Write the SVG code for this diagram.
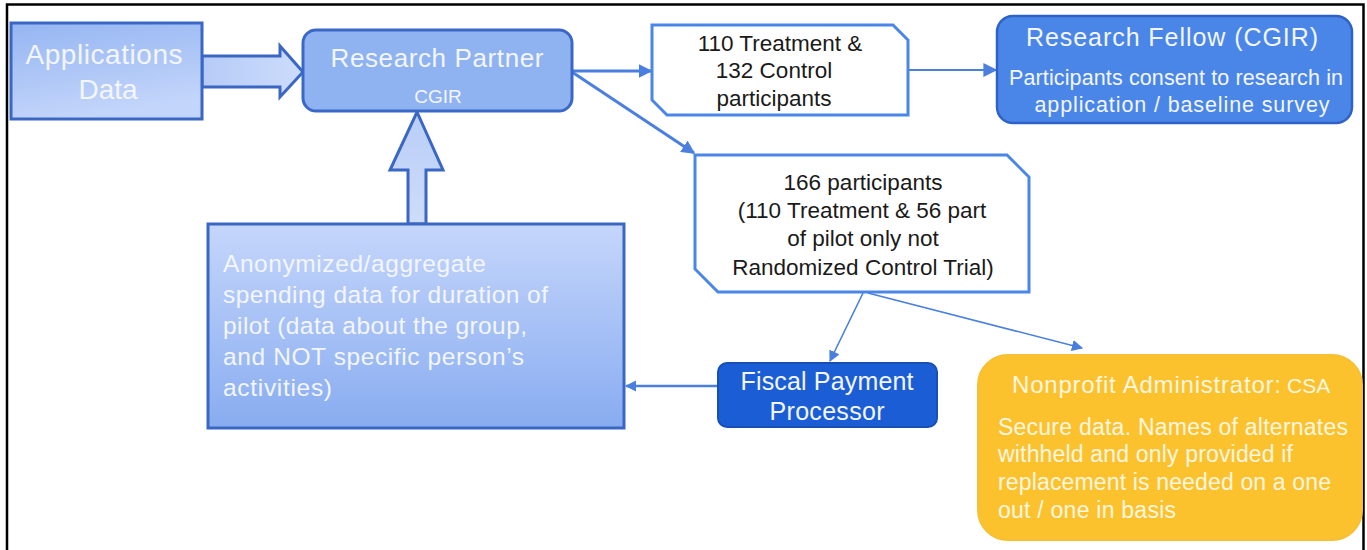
<svg xmlns="http://www.w3.org/2000/svg" width="1367" height="550" viewBox="0 0 1367 550">
<defs>
  <linearGradient id="gApp" x1="0" y1="0" x2="0.3" y2="1">
    <stop offset="0" stop-color="#95b5f2"/>
    <stop offset="1" stop-color="#c3d5fa"/>
  </linearGradient>
  <linearGradient id="gArrowH" x1="0" y1="0" x2="1" y2="0">
    <stop offset="0" stop-color="#b5cbf7"/>
    <stop offset="1" stop-color="#cddcfb"/>
  </linearGradient>
  <linearGradient id="gArrowV" x1="0" y1="0" x2="0" y2="1">
    <stop offset="0" stop-color="#b8cdf7"/>
    <stop offset="1" stop-color="#cfdcfa"/>
  </linearGradient>
  <linearGradient id="gAnon" x1="0" y1="0" x2="0" y2="1">
    <stop offset="0" stop-color="#c5d6fb"/>
    <stop offset="1" stop-color="#88acf0"/>
  </linearGradient>
  <marker id="ah" viewBox="0 0 10 10" refX="9" refY="5" markerWidth="4.5" markerHeight="4.5" orient="auto" markerUnits="strokeWidth">
    <path d="M0,0 L10,5 L0,10 Z" fill="#4a7fe0"/>
  </marker>
  <marker id="ahs" viewBox="0 0 10 10" refX="9" refY="5" markerWidth="7" markerHeight="7" orient="auto" markerUnits="strokeWidth">
    <path d="M0,0 L10,5 L0,10 Z" fill="#4a7fe0"/>
  </marker>
</defs>
<style>
  .w { font-family: "Liberation Sans", Arial, sans-serif; fill: #f3f6ff; }
  .y { fill: #fff6e0; }
  .k { font-family: "Liberation Sans", Arial, sans-serif; fill: #1a1a1a; font-size: 22.5px; text-anchor: middle; }
  .c { text-anchor: middle; }
  .blk { stroke: #3a66c4; stroke-width: 3; }
  .conn { fill: none; stroke: #4a7fe0; }
  .outline { fill: #ffffff; stroke: #4a86e8; stroke-width: 3; }
</style>

<path d="M7,550 V4.5 H1363.5 V550" fill="none" stroke="#000" stroke-width="2.5"/>

<g id="connectors">
  <polygon class="blk" fill="url(#gArrowH)" points="202,56 280,56 280,46 303,72 280,97 280,87 202,87"/>
  <polygon class="blk" fill="url(#gArrowV)" points="408,224 408,170 390,170 417,112 443,170 426,170 426,224"/>
  <line class="conn" x1="572" y1="71" x2="651" y2="71" stroke-width="3" marker-end="url(#ah)"/>
  <line class="conn" x1="909" y1="70" x2="996" y2="70" stroke-width="2" marker-end="url(#ahs)"/>
  <line class="conn" x1="572" y1="72" x2="694" y2="153" stroke-width="3" marker-end="url(#ah)"/>
  <line class="conn" x1="863" y1="293" x2="830" y2="361" stroke-width="1.6" marker-end="url(#ahs)"/>
  <line class="conn" x1="868" y1="293" x2="1082" y2="348" stroke-width="1.6" marker-end="url(#ahs)"/>
  <line class="conn" x1="718" y1="386" x2="626" y2="386" stroke-width="2.5" marker-end="url(#ah)"/>
</g>

<g id="applications-data">
  <rect x="11" y="23" width="191" height="96" fill="url(#gApp)" stroke="#3a66c4" stroke-width="3"/>
  <text class="w c" x="104" y="64" font-size="28" textLength="157">Applications</text>
  <text class="w c" x="108" y="99" font-size="28">Data</text>
</g>

<g id="research-partner">
  <rect x="303" y="30" width="269" height="81" rx="13" fill="#8fb2f1" stroke="#3a68c8" stroke-width="3"/>
  <text class="w c" x="437" y="67" font-size="26" textLength="213">Research Partner</text>
  <text class="w c" x="438" y="103" font-size="19">CGIR</text>
</g>

<g id="anonymized-data">
  <rect x="208" y="224" width="416" height="204" fill="url(#gAnon)" stroke="#3a66c4" stroke-width="3"/>
  <text class="w" x="223" y="272" font-size="24.5" textLength="263">Anonymized/aggregate</text>
  <text class="w" x="223" y="303" font-size="24.5" textLength="325">spending data for duration of</text>
  <text class="w" x="223" y="334" font-size="24.5" textLength="304">pilot (data about the group,</text>
  <text class="w" x="223" y="365" font-size="24.5" textLength="301">and NOT specific person’s</text>
  <text class="w" x="223" y="396" font-size="24.5" textLength="109">activities)</text>
</g>

<g id="treatment-control">
  <path class="outline" d="M652,25 H893 L908,40 V115 H667 L652,100 Z"/>
  <text class="k" x="780" y="51">110 Treatment &amp;</text>
  <text class="k" x="774" y="78">132 Control</text>
  <text class="k" x="774" y="106">participants</text>
</g>

<g id="research-fellow">
  <rect x="997" y="16" width="355" height="107" rx="16" fill="#4a86e8" stroke="#2f62c8" stroke-width="2.5"/>
  <text class="w c" x="1172" y="46" font-size="25" textLength="292">Research Fellow (CGIR)</text>
  <text class="w c" x="1176" y="85" font-size="21.5" textLength="334">Participants consent to research  in</text>
  <text class="w c" x="1182" y="112" font-size="21.5" textLength="295">application / baseline survey</text>
</g>

<g id="participants-166">
  <path class="outline" d="M695,155 H1007 L1029,177 V292 H718 L695,269 Z"/>
  <text class="k" x="863" y="190">166 participants</text>
  <text class="k" x="862" y="218">(110 Treatment &amp; 56 part</text>
  <text class="k" x="863" y="246">of pilot only not</text>
  <text class="k" x="863" y="275">Randomized Control Trial)</text>
</g>

<g id="fiscal-payment-processor">
  <rect x="718" y="363" width="219" height="64" rx="9" fill="#1b5dd5" stroke="#184fb3" stroke-width="2"/>
  <text class="w c" x="827" y="390" font-size="25" textLength="173">Fiscal Payment</text>
  <text class="w c" x="827" y="420" font-size="25" textLength="115">Processor</text>
</g>

<g id="nonprofit-administrator">
  <rect x="978" y="355" width="384" height="185" rx="30" fill="#fbc22d" stroke="#f7c034" stroke-width="2"/>
  <text class="w y" x="1012" y="393" font-size="24" textLength="269">Nonprofit Administrator:</text>
  <text class="w y" x="1287" y="393" font-size="21">CSA</text>
  <text class="w y" x="998" y="435" font-size="23" textLength="350">Secure data. Names of alternates</text>
  <text class="w y" x="998" y="462" font-size="23" textLength="295">withheld and only provided if</text>
  <text class="w y" x="998" y="490" font-size="23" textLength="333">replacement is needed on a one</text>
  <text class="w y" x="998" y="518" font-size="23" textLength="178">out / one in basis</text>
</g>
</svg>
